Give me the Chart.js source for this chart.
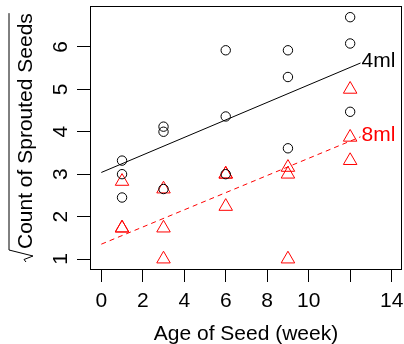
<!DOCTYPE html>
<html><head><meta charset="utf-8">
<script src="https://cdn.jsdelivr.net/npm/chart.js@4.4.1/dist/chart.umd.min.js"></script>
<style>html,body{margin:0;padding:0;background:#fff}#wrap{width:404px;height:344px}</style>
</head><body><div id="wrap"><canvas id="c" width="404" height="344"></canvas></div>
<script>
const ageWeeks = [1,1,1,3,3,3,6,6,6,9,9,9,12,12,12];
const sqrt4ml = [3.32,3.0,2.45, 4.12,4.0,2.65, 5.92,4.36,3.0, 5.92,5.29,3.61, 6.7,6.08,4.47];
const sqrt8ml = [2.83,1.73,1.73, 2.65,1.73,1.0, 3.0,3.0,2.24, 3.16,3.0,1.0, 5.0,3.87,3.32];
const fitX = [0, 12.5];
const fit4ml = [3.04, 5.62];
const fit8ml = [1.35, 3.88];
const xTicks = [0,2,4,6,8,10,12,14];
const xTickLabels = ['0','2','4','6','8','10','','14'];
const yTicks = [1,2,3,4,5,6];
const yTickLabels = ['1','2','3','4','5','6'];
const seriesNames = ['4ml','8ml'];
const xTitle = 'Age of Seed (week)';
const yTitle = 'Count of Sprouted Seeds';

const FONT = '21px "Liberation Sans", Arial, sans-serif';
const pts = (xs, ys) => xs.map((v,i)=>({x:v, y:ys[i]}));

const rPlugin = {
  id: 'rstyle',
  afterDraw(chart) {
    const {ctx, chartArea: a, scales:{x, y}} = chart;
    ctx.save();
    ctx.strokeStyle = '#000'; ctx.lineWidth = 1;
    const L = Math.round(a.left)+0.5, T = Math.round(a.top)-0.5, R = Math.round(a.right)-0.5, B = Math.round(a.bottom)+0.5;
    ctx.strokeRect(L, T, R-L, B-T);
    ctx.font = FONT; ctx.fillStyle = '#000';
    ctx.textAlign = 'center'; ctx.textBaseline = 'middle';
    xTicks.forEach((v,i)=>{ if (xTickLabels[i]) ctx.fillText(xTickLabels[i], x.getPixelForValue(v), 301); });
    yTicks.forEach((v,i)=>{
      ctx.save(); ctx.translate(61, y.getPixelForValue(v)); ctx.rotate(-Math.PI/2);
      ctx.fillText(yTickLabels[i], 0, 0); ctx.restore();
    });
    ctx.textBaseline = 'alphabetic';
    ctx.fillText(xTitle, (a.left+a.right)/2, 340);
    // y title with sqrt
    ctx.save(); ctx.translate(32, 262); ctx.rotate(-Math.PI/2);
    ctx.textAlign = 'left';
    ctx.fillText(yTitle, 13, 0);
    const w = ctx.measureText(yTitle).width;
    ctx.beginPath();
    ctx.moveTo(0,-6); ctx.lineTo(2.5,-8); ctx.lineTo(6,1); ctx.lineTo(12,-23); ctx.lineTo(13+w,-23);
    ctx.stroke();
    ctx.restore();
    // series labels
    ctx.textAlign = 'left'; ctx.textBaseline = 'middle';
    ctx.fillStyle = '#000';
    ctx.fillText(seriesNames[0], x.getPixelForValue(fitX[1])+1, y.getPixelForValue(fit4ml[1])-1.5);
    ctx.fillStyle = '#f00';
    ctx.fillText(seriesNames[1], x.getPixelForValue(fitX[1])+1, y.getPixelForValue(fit8ml[1])-2);
    ctx.restore();
  }
};

const axisCommon = {
  type: 'linear',
  ticks: { display: false },
  grid: { display: true, drawOnChartArea: false, drawTicks: true, tickLength: 13, color: '#000', lineWidth: 1 },
  border: { display: false }
};

new Chart(document.getElementById('c'), {
  type: 'scatter',
  data: {
    datasets: [
      { label: seriesNames[0], data: pts(ageWeeks, sqrt4ml), pointStyle: 'circle', pointRadius: 4.7,
        borderColor: '#000', backgroundColor: 'rgba(0,0,0,0)', pointBorderWidth: 1 },
      { label: seriesNames[1], data: pts(ageWeeks, sqrt8ml), pointStyle: 'triangle', pointRadius: 7.8,
        borderColor: '#f00', backgroundColor: 'rgba(0,0,0,0)', pointBorderWidth: 1 },
      { label: 'fit4', data: pts(fitX, fit4ml), showLine: true, pointRadius: 0, borderColor: '#000', borderWidth: 1 },
      { label: 'fit8', data: pts(fitX, fit8ml), showLine: true, pointRadius: 0, borderColor: '#f00', borderWidth: 1, borderDash: [5,4] }
    ]
  },
  options: {
    responsive: false, animation: false, devicePixelRatio: 1,
    layout: { autoPadding: false, padding: { left: 0, right: 2, top: 7, bottom: 0 } },
    plugins: { legend: { display: false }, tooltip: { enabled: false } },
    scales: {
      x: Object.assign({}, axisCommon, { min: -0.545, max: 14.5,
        afterBuildTicks: s => { s.ticks = xTicks.map(v=>({value:v})); },
        afterFit: s => { s.height = 75; } }),
      y: Object.assign({}, axisCommon, { min: 0.765, max: 6.94,
        afterBuildTicks: s => { s.ticks = yTicks.map(v=>({value:v})); },
        afterFit: s => { s.width = 90; } })
    }
  },
  plugins: [rPlugin]
});
</script>
</body></html>
